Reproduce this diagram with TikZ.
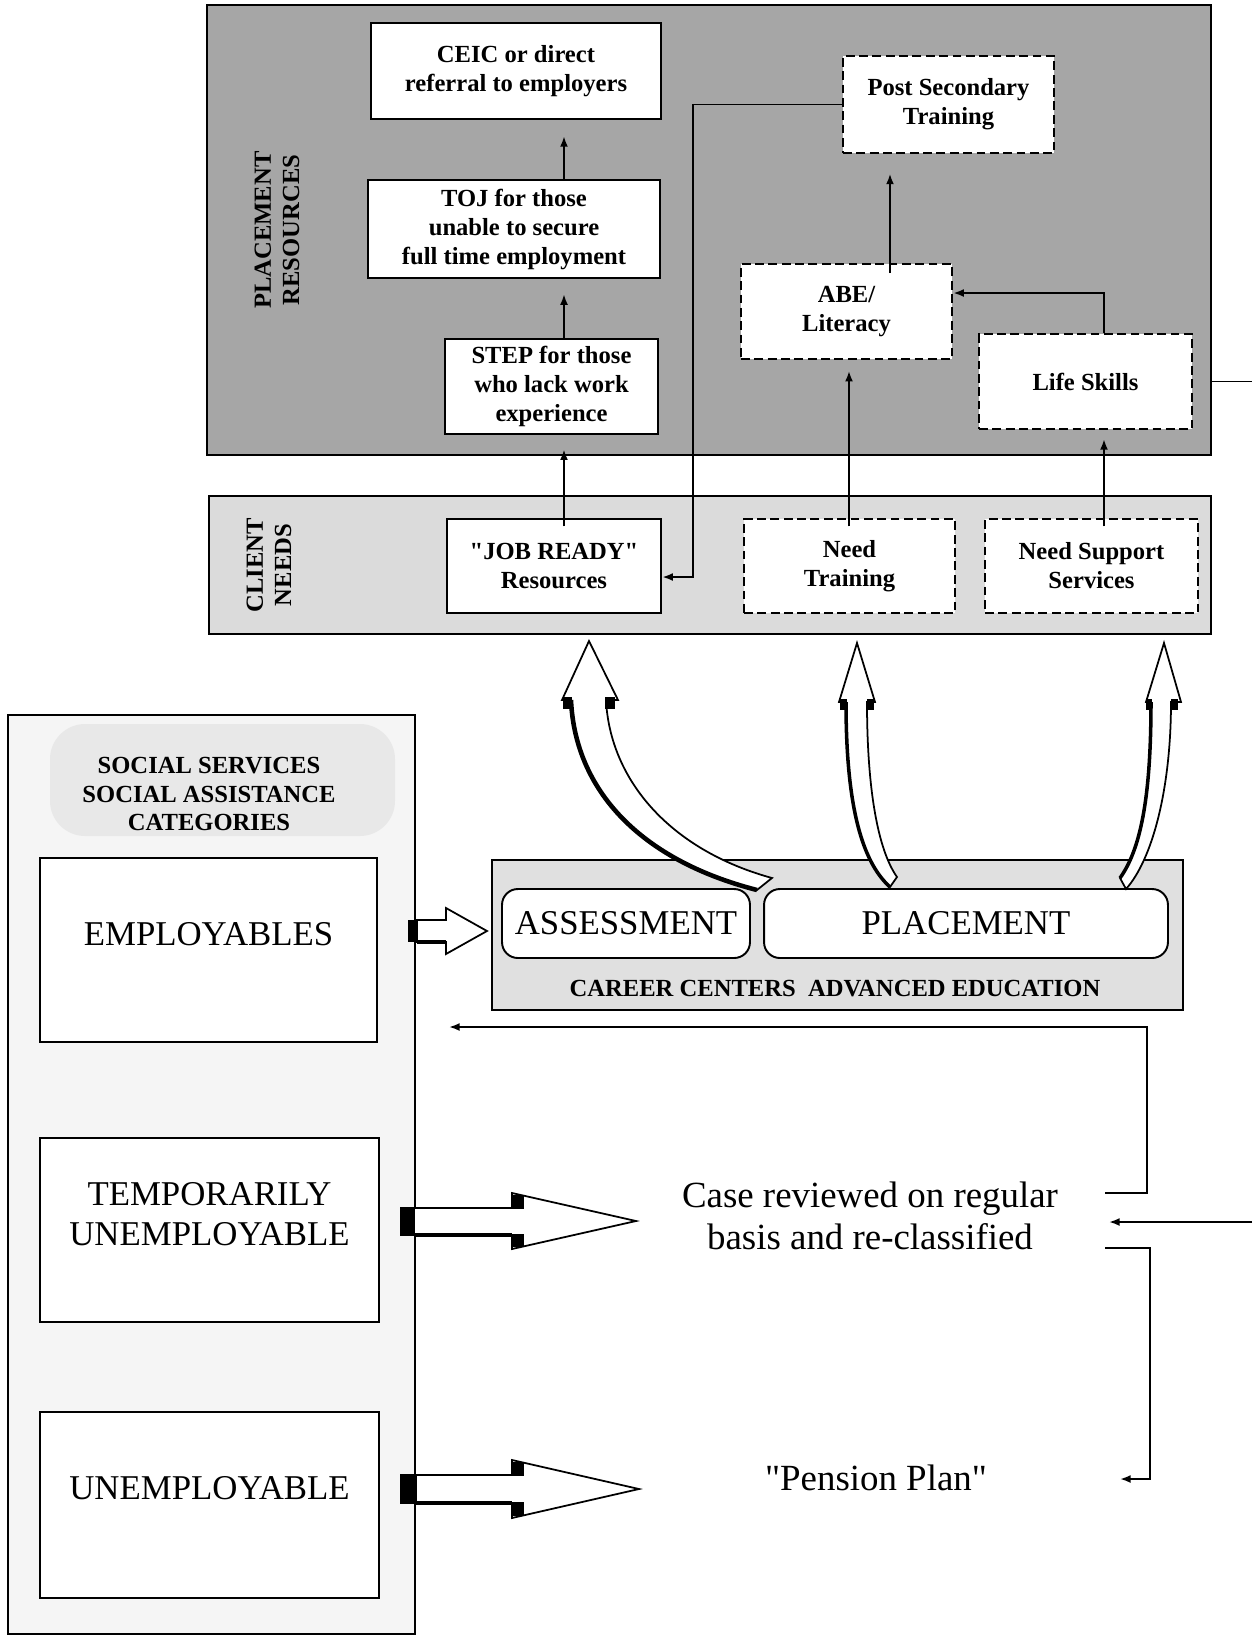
\documentclass[tikz,border=0pt]{standalone}
\usepackage{fontspec}
\setmainfont{Liberation Serif}
\usetikzlibrary{arrows.meta,calc}
\begin{document}
\begin{tikzpicture}[x=0.02cm,y=-0.02cm,
  outerbox/.style={draw, line width=1.1pt, inner sep=0pt},
  wbox/.style={draw, fill=white, line width=1.5pt, align=center, inner sep=0pt,
     font=\bfseries\fontsize{14}{16.5}\selectfont},
  dbox/.style={wbox, dash pattern=on 5pt off 2.6pt},
  rbox/.style={draw, fill=white, line width=1.1pt, rounded corners=9pt, inner sep=0pt,
     font=\fontsize{19.8}{23}\selectfont},
  cbox/.style={draw, fill=white, line width=1.1pt, inner sep=0pt},
  bigtxt/.style={align=center, font=\fontsize{19.8}{22.5}\selectfont},
  lbl/.style={align=center, font=\bfseries\fontsize{14}{16}\selectfont},
  arr/.style={line width=1.1pt, -{Latex[length=6pt,width=4.5pt]}},
  ln/.style={line width=1.1pt},
  hollow/.style={fill=white, draw, line width=1pt, line join=miter}
]
\useasboundingbox (0,0) rectangle (1252,1637);

% ---------- Placement resources ----------
\node[outerbox, fill=black!35, minimum width=20.08cm, minimum height=9.00cm] (pres) at (709,230) {};
\node[lbl, rotate=90] (presL) at (277,230) {PLACEMENT\\RESOURCES};
\node[wbox, minimum width=5.80cm, minimum height=1.92cm] (ceic) at (516,71) {CEIC or direct\\referral to employers};
\node[wbox, minimum width=5.84cm, minimum height=1.96cm] (toj) at (514,229) {TOJ for those\\unable to secure\\full time employment};
\node[wbox, minimum width=4.26cm, minimum height=1.90cm] (step) at (551.5,386.5) {STEP for those\\who lack work\\experience};
\node[dbox, minimum width=4.22cm, minimum height=1.94cm] (post) at (948.5,104.5) {Post Secondary\\Training};
\node[dbox, minimum width=4.22cm, minimum height=1.90cm] (abe) at (846.5,311.5) {ABE/\\Literacy};
\node[dbox, minimum width=4.26cm, minimum height=1.90cm] (life) at (1085.5,381.5) {Life Skills};

% ---------- Client needs ----------
\node[outerbox, fill=black!14, minimum width=20.04cm, minimum height=2.76cm] (cneeds) at (710,565) {};
\node[lbl, rotate=90] (cneedsL) at (269,565) {CLIENT\\NEEDS};
\node[wbox, minimum width=4.28cm, minimum height=1.88cm] (jr) at (554,566) {\textquotedbl JOB READY\textquotedbl\\Resources};
\node[dbox, minimum width=4.22cm, minimum height=1.88cm] (nt) at (849.5,566) {Need\\Training};
\node[dbox, minimum width=4.26cm, minimum height=1.88cm] (ns) at (1091.5,566) {Need Support\\Services};

% column coordinates
\coordinate (ax1) at (564,0);
\coordinate (ax2) at (890,0);
\coordinate (ax4) at (1104,0);
\coordinate (ax5) at (849,0);
\coordinate (c293) at (0,293);
\coordinate (k) at (693,577);
\coordinate (edgeR) at (1252,0);

% arrows inside placement resources
\draw[arr, shorten >=8.5pt] (step.north -| ax1) -- (toj.south -| ax1);
\draw[arr, shorten >=9pt] (toj.north -| ax1) -- (ceic.south -| ax1);
\draw[arr, shorten <=-6pt, shorten >=11pt] (abe.north -| ax2) -- (post.south -| ax2);
\draw[arr] (life.north -| ax4) |- (abe.east |- c293);
\draw[arr] (post.west) -| (k) -- (jr.east |- k);
\draw[ln] (life.east -| pres.east) -- (life.east -| edgeR);

% arrows from client needs
\draw[arr, shorten <=-5pt, shorten >=8pt] (jr.north -| ax1) -- (step.south -| ax1);
\draw[arr, shorten <=-5pt, shorten >=6pt] (nt.north -| ax5) -- (abe.south -| ax5);
\draw[arr, shorten <=-5pt, shorten >=5pt] (ns.north -| ax4) -- (life.south -| ax4);

% ---------- Career centers ----------
\node[outerbox, fill=black!12, minimum width=13.82cm, minimum height=3.00cm] (career) at (837.5,935) {};
\node[rbox, minimum width=4.96cm, minimum height=1.38cm] (assess) at (626,923.5) {ASSESSMENT};
\node[rbox, minimum width=8.08cm, minimum height=1.38cm] (place) at (966,923.5) {PLACEMENT};
\node[lbl] (careerL) at (835,989) {CAREER CENTERS\ \ ADVANCED EDUCATION};

% big hollow curved arrows
\filldraw[hollow] (757,890) .. controls (640,860) and (575,790) .. (571,700) -- (562,700) -- (589,641) -- (618,700) -- (606,700) .. controls (610,780) and (670,850) .. (772,878) -- cycle;
\draw[line width=2.6pt] (757,890) .. controls (640,860) and (575,790) .. (571,700);
\fill (563,697) rectangle (572,709);
\fill (605,697) rectangle (615,709);

\filldraw[hollow] (890,887) .. controls (860,860) and (846,800) .. (846,702) -- (839,702) -- (857,643) -- (875,702) -- (867,702) .. controls (867,790) and (878,850) .. (897,877) -- cycle;
\draw[line width=2pt] (890,887) .. controls (860,860) and (846,800) .. (846,702);
\fill (840,699) rectangle (847,710);
\fill (867,699) rectangle (874,710);

\filldraw[hollow] (1120,878) .. controls (1140,850) and (1151,800) .. (1151,702) -- (1146,702) -- (1164,643) -- (1181,702) -- (1171,702) .. controls (1171,790) and (1152,860) .. (1126,889) -- cycle;
\draw[line width=2pt] (1120,878) .. controls (1140,850) and (1151,800) .. (1151,702);
\fill (1146,699) rectangle (1152,710);
\fill (1171,699) rectangle (1178,710);

% ---------- Social services ----------
\node[outerbox, fill=black!4, minimum width=8.14cm, minimum height=18.38cm] (social) at (211.5,1174.5) {};
\fill[black!9, rounded corners=20pt] (50,724) rectangle (395,836);
\node[lbl] (socialL) at (209,794) {SOCIAL SERVICES\\SOCIAL ASSISTANCE\\CATEGORIES};
\node[cbox, minimum width=6.74cm, minimum height=3.68cm] (emp) at (208.5,950) {};
\node[bigtxt] (empT) at (208.5,934) {EMPLOYABLES};
\node[cbox, minimum width=6.78cm, minimum height=3.68cm] (temp) at (209.5,1230) {};
\node[bigtxt] (tempT) at (209.5,1214) {TEMPORARILY\\UNEMPLOYABLE};
\node[cbox, minimum width=6.78cm, minimum height=3.72cm] (unemp) at (209.5,1505) {};
\node[bigtxt] (unempT) at (209.5,1488) {UNEMPLOYABLE};

% horizontal hollow arrows
\filldraw[hollow] (417,920) -- (446,920) -- (446,908) -- (487,931) -- (446,954) -- (446,942) -- (417,942) -- cycle;
\fill (408,920) rectangle (418,942);
\draw[line width=2pt] (417,942) -- (446,942);

\filldraw[hollow] (414,1208) -- (512,1208) -- (512,1193) -- (636,1221) -- (512,1249) -- (512,1235) -- (414,1235) -- cycle;
\fill (400,1207) rectangle (414,1236);
\fill (512,1195) rectangle (524,1209);
\fill (512,1234) rectangle (524,1247);
\draw[line width=2.2pt] (414,1235) -- (512,1235);

\filldraw[hollow] (416,1475) -- (512,1475) -- (512,1460) -- (639,1489) -- (512,1518) -- (512,1503) -- (416,1503) -- cycle;
\fill (400,1474) rectangle (416,1504);
\fill (512,1462) rectangle (524,1476);
\fill (512,1502) rectangle (524,1516);
\draw[line width=2.2pt] (416,1503) -- (512,1503);

% ---------- Case review ----------
\node[align=center, font=\fontsize{21}{24}\selectfont] (case) at (870,1216) {Case reviewed on regular\\basis and re-classified};
\node[align=center, font=\fontsize{21}{24}\selectfont] (pension) at (876,1478) {\textquotedbl Pension Plan\textquotedbl};

\coordinate (r1) at (1105,1193);
\coordinate (r2) at (1147,1027);
\coordinate (r3) at (449,1027);
\coordinate (r4) at (1252,1222);
\coordinate (r5) at (1109,1222);
\coordinate (r6) at (1105,1248);
\coordinate (r7) at (1150,1479);
\coordinate (r8) at (1120,1479);
\draw[arr] (r1) -| (r2) -- (r3);
\draw[arr] (r4) -- (r5);
\draw[arr] (r6) -| (r7) -- (r8);
\end{tikzpicture}
\end{document}
